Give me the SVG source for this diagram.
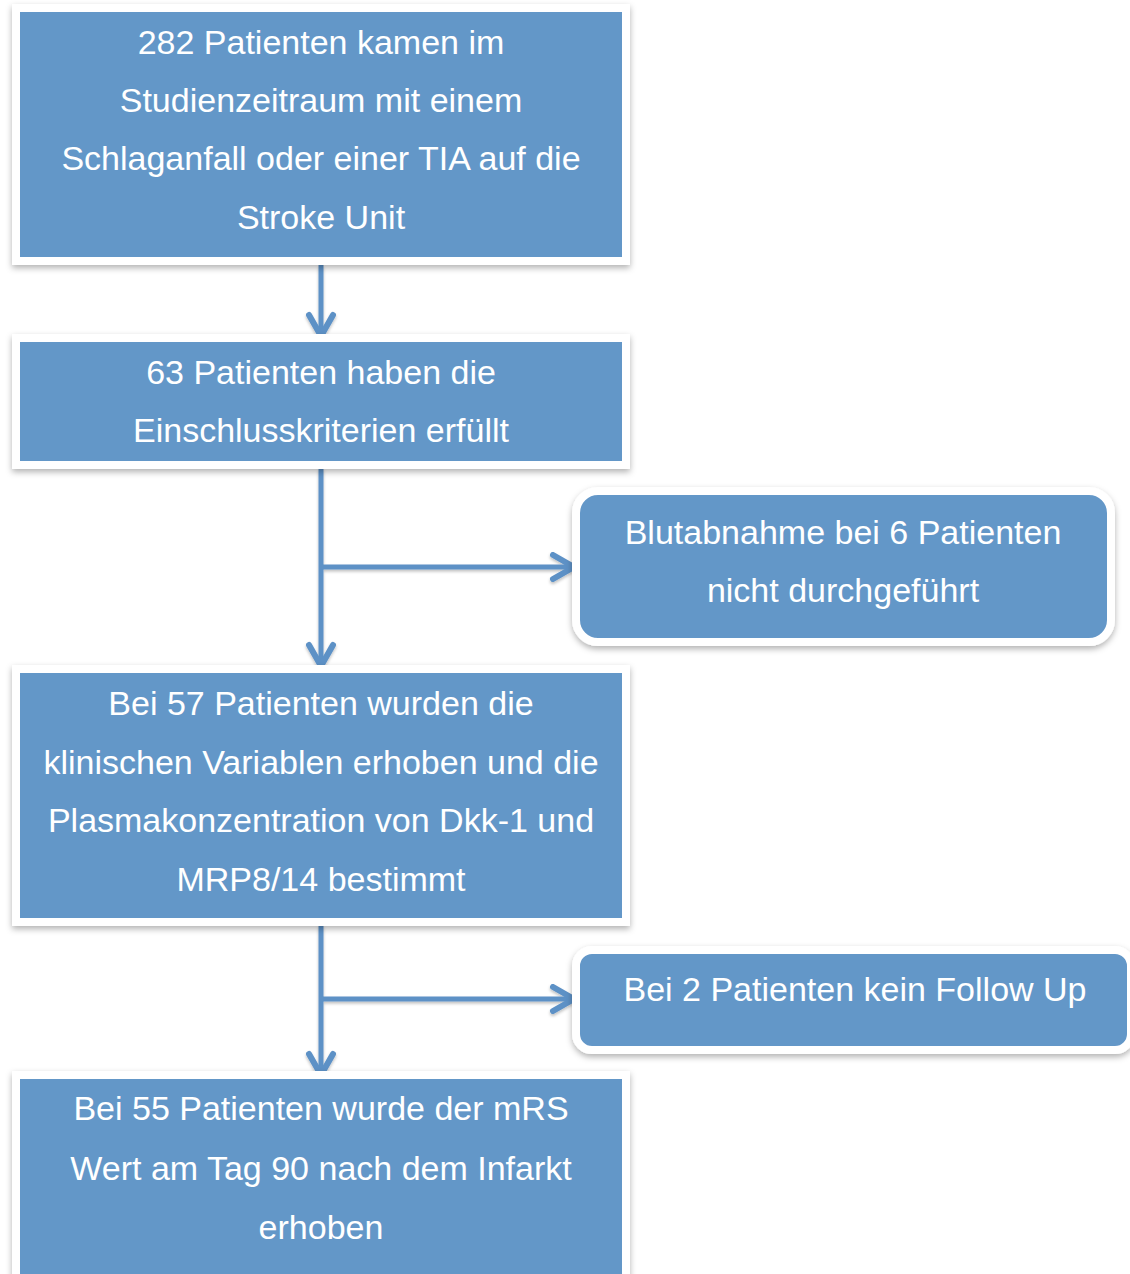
<svg xmlns="http://www.w3.org/2000/svg" width="1130" height="1274" viewBox="0 0 1130 1274">
<style>
.box{fill:#6497C8;stroke:#ffffff;stroke-width:8;filter:url(#sh)}
.t{font-family:"Liberation Sans",Arial,Helvetica,sans-serif;font-size:34px;fill:#ffffff;text-anchor:middle}
.c{fill:none;stroke:#5D91C6;stroke-width:5}
</style>
<defs>
<filter id="sh" x="-10%" y="-10%" width="120%" height="130%">
<feDropShadow dx="0" dy="3" stdDeviation="3" flood-color="#000" flood-opacity="0.3"/>
</filter>
<filter id="sh2" filterUnits="userSpaceOnUse" x="0" y="0" width="1130" height="1274">
<feDropShadow dx="0" dy="2" stdDeviation="1.5" flood-color="#000" flood-opacity="0.25"/>
</filter>
<marker id="arr" viewBox="0 0 30 30" refX="26" refY="15" markerWidth="30" markerHeight="30" markerUnits="userSpaceOnUse" orient="auto">
<path d="M5,3 L26,15 L5,27" fill="none" stroke="#5D91C6" stroke-width="6" stroke-linecap="round" stroke-linejoin="round"/>
</marker>
</defs>
<rect width="1130" height="1274" fill="#ffffff"/>
<g id="connectors" filter="url(#sh2)">
<path class="c" d="M321,265 V336" marker-end="url(#arr)"/>
<path class="c" d="M321,468 V666" marker-end="url(#arr)"/>
<path class="c" d="M321,567 H574" marker-end="url(#arr)"/>
<path class="c" d="M321,925 V1075" marker-end="url(#arr)"/>
<path class="c" d="M321,999 H574" marker-end="url(#arr)"/>
</g>
<g id="n1">
<rect class="box" x="16" y="8" width="610" height="253"/>
<text class="t" x="321" y="54">282 Patienten kamen im</text>
<text class="t" x="321" y="112">Studienzeitraum mit einem</text>
<text class="t" x="321" y="170">Schlaganfall oder einer TIA auf die</text>
<text class="t" x="321" y="229">Stroke Unit</text>
</g>
<g id="n2">
<rect class="box" x="16" y="338" width="610" height="127"/>
<text class="t" x="321" y="384">63 Patienten haben die</text>
<text class="t" x="321" y="442">Einschlusskriterien erfüllt</text>
</g>
<g id="n3">
<rect class="box" x="576" y="491" width="535" height="151" rx="22"/>
<text class="t" x="843" y="544">Blutabnahme bei 6 Patienten</text>
<text class="t" x="843" y="602">nicht durchgeführt</text>
</g>
<g id="n4">
<rect class="box" x="16" y="669" width="610" height="253"/>
<text class="t" x="321" y="715">Bei 57 Patienten wurden die</text>
<text class="t" x="321" y="774">klinischen Variablen erhoben und die</text>
<text class="t" x="321" y="832">Plasmakonzentration von Dkk-1 und</text>
<text class="t" x="321" y="891">MRP8/14 bestimmt</text>
</g>
<g id="n5">
<rect class="box" x="576" y="950" width="555" height="100" rx="16"/>
<text class="t" x="855" y="1001">Bei 2 Patienten kein Follow Up</text>
</g>
<g id="n6">
<rect class="box" x="16" y="1075" width="610" height="215"/>
<text class="t" x="321" y="1120">Bei 55 Patienten wurde der mRS</text>
<text class="t" x="321" y="1180">Wert am Tag 90 nach dem Infarkt</text>
<text class="t" x="321" y="1239">erhoben</text>
</g>
</svg>
